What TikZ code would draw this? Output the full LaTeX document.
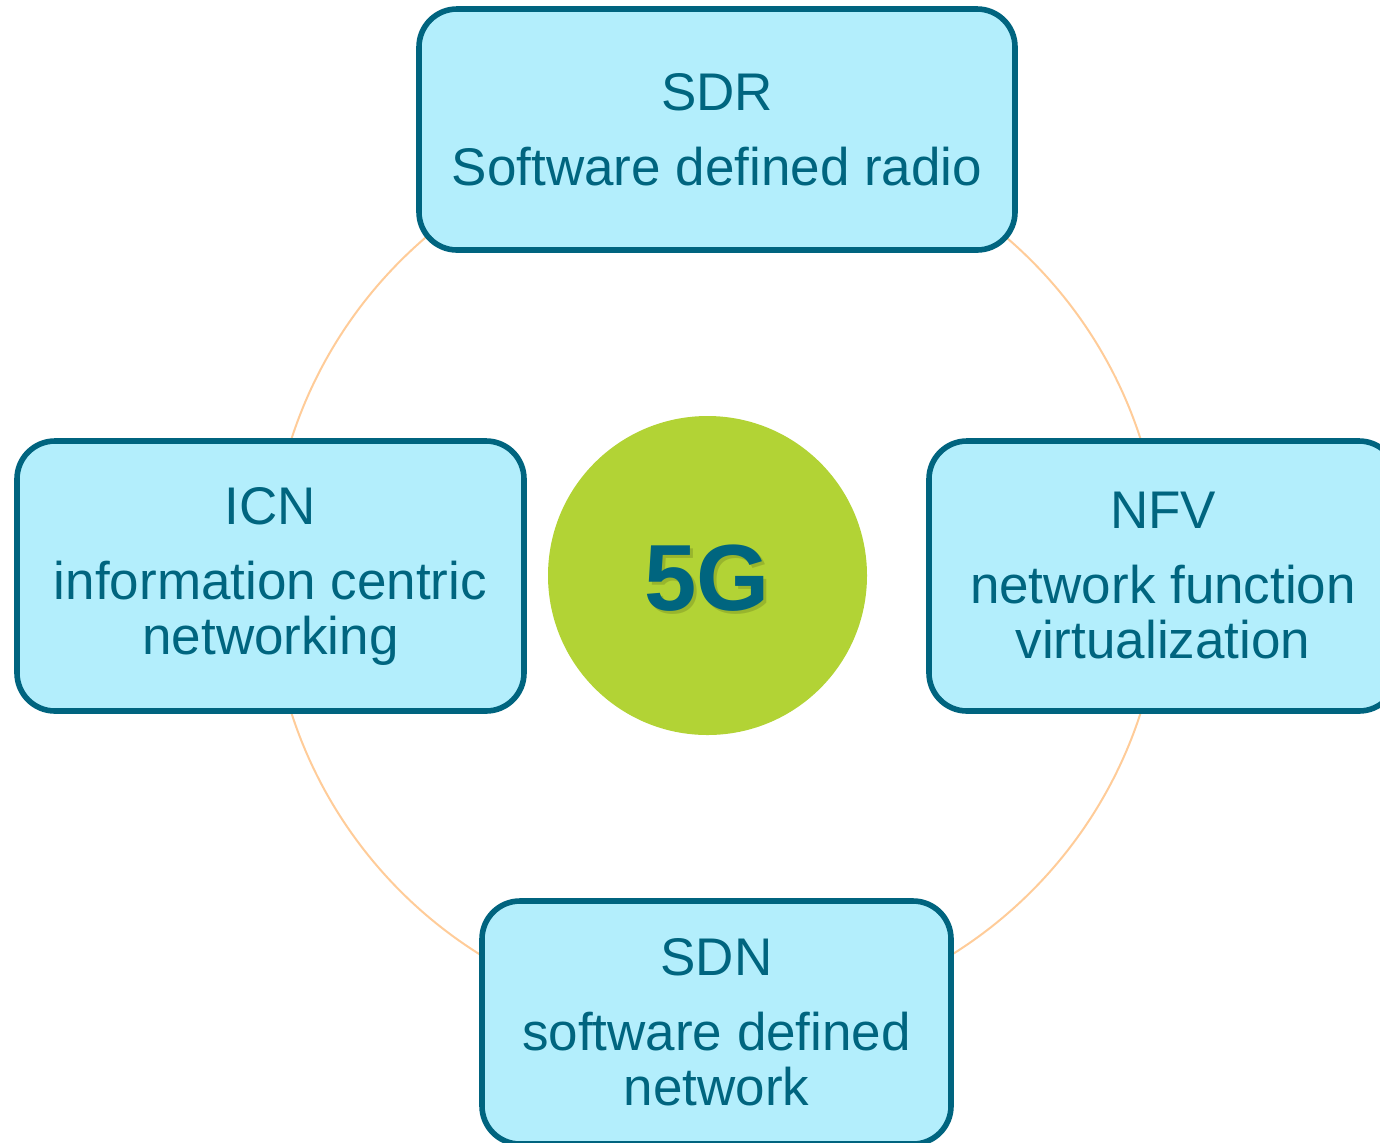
\documentclass[tikz,border=0pt]{standalone}
\usepackage{fontspec}
\setmainfont{Liberation Sans}
\definecolor{boxfill}{HTML}{B3EEFC}
\definecolor{boxline}{HTML}{00647F}
\definecolor{boxtext}{HTML}{00657F}
\definecolor{coregreen}{HTML}{B2D335}
\definecolor{ringorange}{HTML}{FFCC99}
\begin{document}
\begin{tikzpicture}[x=0.5pt,y=-0.5pt,
  techbox/.style={draw=boxline, line width=2.8pt, fill=boxfill,
    rounded corners=19pt, align=center, text=boxtext, inner sep=0pt,
    font=\fontsize{26.5}{27.5}\selectfont},
  ring/.style={draw=ringorange, line width=1pt},
  core/.style={circle, fill=coregreen, minimum size=159.5pt, inner sep=0pt},
  coretext/.style={font=\bfseries\fontsize{47}{47}\selectfont, text=boxtext, inner sep=0pt}]
\useasboundingbox (0,0) rectangle (1380,1142);
\clip (0,0) rectangle (1380,1142);

% ring behind the four technology boxes
\coordinate (ringc) at (716,576);
\draw[ring] (ringc) circle [radius=223pt];

% central 5G disc with a soft drop shadow under the label
\node[core] (core) at (707.5,575.5) {};
\node[coretext, text=black, opacity=0.14] (coreshadow) at ([xshift=1.5pt,yshift=-1.5pt]707,578) {5G};
\node[coretext] (coretxt) at (707,578) {5G};

% technology boxes
\node[techbox, minimum width=298pt, minimum height=120.5pt] (sdr) at (717,129.5)
  {SDR\\[10pt]Software defined radio};
\node[techbox, minimum width=253.5pt, minimum height=135pt] (icn) at (270.5,576)
  {ICN\\[10pt]information centric\\networking};
\node[techbox, minimum width=234pt, minimum height=135pt] (nfv) at (1163,576)
  {NFV\\[10pt]network function\\virtualization};
\node[techbox, minimum width=234.5pt, minimum height=121.5pt] (sdn) at (716.5,1022.5)
  {SDN\\[10pt]software defined\\network};
\end{tikzpicture}
\end{document}
